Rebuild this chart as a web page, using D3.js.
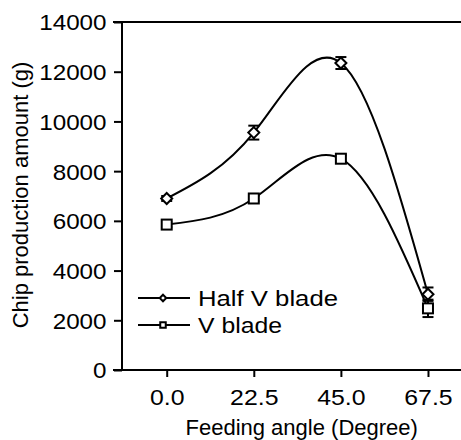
<!DOCTYPE html>
<html>
<head>
<meta charset="utf-8">
<script src="https://cdn.jsdelivr.net/npm/d3@7"></script>
<style>
  html, body { margin: 0; padding: 0; background: #fff; }
  svg { display: block; }
  text { font-family: "Liberation Sans", Arial, sans-serif; fill: #000; }
</style>
</head>
<body>
<div id="chart"></div>
<script>
// ---- data ----
const angles = [0.0, 22.5, 45.0, 67.5];
const halfVValues = [6900, 9550, 12350, 3050];
const halfVErrors = [100, 280, 240, 270];
const vValues = [5850, 6900, 8500, 2480];
const vErrors = [100, 100, 150, 350];
const seriesNames = ["Half V blade", "V blade"];
const yTicks = [0, 2000, 4000, 6000, 8000, 10000, 12000, 14000];
const xTicks = [0.0, 22.5, 45.0, 67.5];
const xTitle = "Feeding angle (Degree)";
const yTitle = "Chip production amount (g)";

const W = 461, H = 440;
const svg = d3.select("#chart").append("svg").attr("width", W).attr("height", H);

const x = d3.scaleLinear().domain([-11.55, 76.03]).range([122, 461]);
const y = d3.scaleLinear().domain([0, 14000]).range([370, 22]);

const fs = 22;
const stretch = 1.1;

// frame line at top (extends to right edge)
svg.append("line").attr("x1", 113).attr("x2", W).attr("y1", y(14000)).attr("y2", y(14000))
  .attr("stroke", "#000").attr("stroke-width", 2);

// y axis
const yAxis = svg.append("g").attr("transform", `translate(${x.range()[0]},0)`)
  .call(d3.axisLeft(y).tickValues(yTicks).tickSize(8).tickPadding(8).tickFormat(d3.format("d")));
yAxis.select(".domain").attr("stroke-width", 2).attr("d", `M0,${y(14000)}V${y(0)+1}`);
yAxis.selectAll(".tick line").attr("stroke-width", 2);
yAxis.selectAll(".tick text").attr("font-size", fs).attr("font-family", "Liberation Sans, Arial, sans-serif")
  .attr("dy", "0.36em").attr("x", 0).attr("transform", `translate(-15.5,0) scale(${stretch},1)`);

// x axis
const xAxis = svg.append("g").attr("transform", `translate(0,${y(0)})`)
  .call(d3.axisBottom(x).tickValues(xTicks).tickSize(7).tickPadding(12).tickFormat(d3.format(".1f")));
xAxis.select(".domain").attr("stroke-width", 2).attr("d", `M113,0H${W}`);
xAxis.selectAll(".tick line").attr("stroke-width", 2);
xAxis.selectAll(".tick text").attr("font-size", fs).attr("font-family", "Liberation Sans, Arial, sans-serif")
  .attr("transform", `scale(${stretch + 0.03},1)`);

// titles
svg.append("text").attr("x", 301.7).attr("y", 435).attr("text-anchor", "middle")
  .attr("font-size", fs).text(xTitle);
svg.append("text").attr("transform", "translate(28,195) rotate(-90)").attr("text-anchor", "middle")
  .attr("font-size", fs).text(yTitle);

const line = d3.line().x(d => x(d[0])).y(d => y(d[1])).curve(d3.curveNatural);

const series = [
  { name: seriesNames[0], values: halfVValues, errors: halfVErrors, shape: "diamond", legendLen: 140 },
  { name: seriesNames[1], values: vValues, errors: vErrors, shape: "square", legendLen: 84 }
];

function marker(g, shape, cx, cy, size) {
  if (shape === "diamond") {
    const r = size / 2;
    g.append("path").attr("d", `M${cx},${cy - r}L${cx + r},${cy}L${cx},${cy + r}L${cx - r},${cy}Z`)
      .attr("fill", "#fff").attr("stroke", "#000").attr("stroke-width", 2);
  } else {
    g.append("rect").attr("x", cx - size / 2).attr("y", cy - size / 2).attr("width", size).attr("height", size)
      .attr("fill", "#fff").attr("stroke", "#000").attr("stroke-width", 2);
  }
}

series.forEach(s => {
  const pts = angles.map((a, i) => [a, s.values[i]]);
  svg.append("path").datum(pts).attr("d", line).attr("fill", "none")
    .attr("stroke", "#000").attr("stroke-width", 2);
  const eg = svg.append("g");
  angles.forEach((a, i) => {
    const cx = x(a), top = y(s.values[i] + s.errors[i]), bot = y(s.values[i] - s.errors[i]);
    eg.append("line").attr("x1", cx).attr("x2", cx).attr("y1", top).attr("y2", bot).attr("stroke", "#000").attr("stroke-width", 2);
    eg.append("line").attr("x1", cx - 5.5).attr("x2", cx + 5.5).attr("y1", top).attr("y2", top).attr("stroke", "#000").attr("stroke-width", 2);
    eg.append("line").attr("x1", cx - 5.5).attr("x2", cx + 5.5).attr("y1", bot).attr("y2", bot).attr("stroke", "#000").attr("stroke-width", 2);
  });
});
series.forEach(s => {
  const mg = svg.append("g");
  angles.forEach((a, i) => {
    marker(mg, s.shape, x(a), y(s.values[i]), s.shape === "diamond" ? 11 : 10);
  });
});

// legend
const legY = [298, 325];
series.forEach((s, i) => {
  const g = svg.append("g");
  g.append("line").attr("x1", 138).attr("x2", 190).attr("y1", legY[i]).attr("y2", legY[i])
    .attr("stroke", "#000").attr("stroke-width", 2);
  marker(g, s.shape, 163, legY[i], s.shape === "diamond" ? 6.5 : 5.5);
  g.append("text").attr("x", 198).attr("y", legY[i]).attr("dy", "0.36em").attr("font-size", fs)
    .attr("textLength", s.legendLen).attr("lengthAdjust", "spacingAndGlyphs").text(s.name);
});
</script>
</body>
</html>
